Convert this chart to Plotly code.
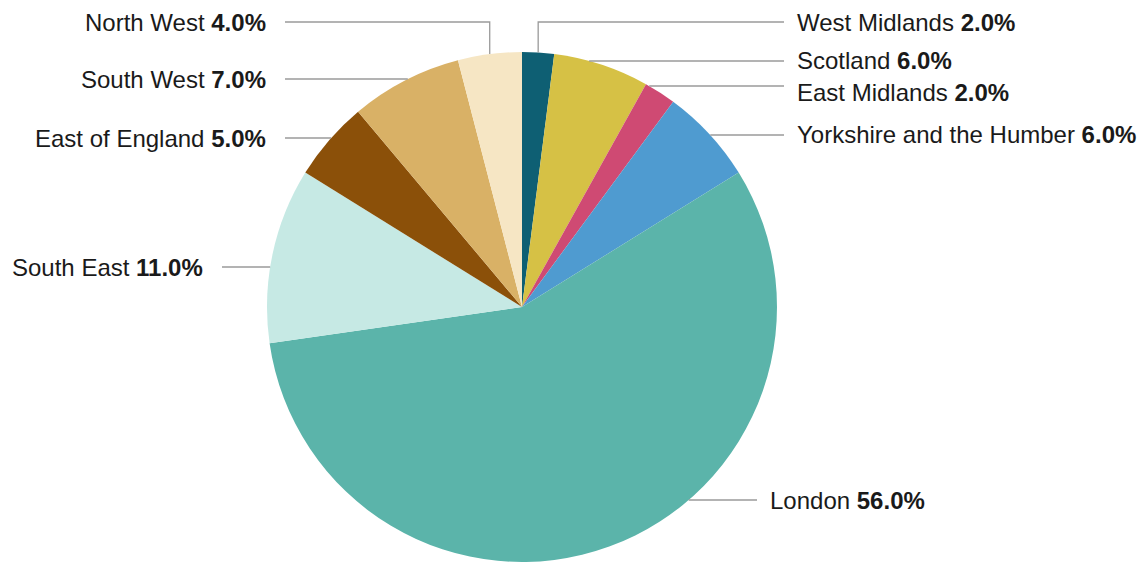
import math
import plotly.graph_objects as go

# Regional share data (clockwise from 12 o'clock)
regions = ["West Midlands", "Scotland", "East Midlands", "Yorkshire and the Humber",
           "London", "South East", "East of England", "South West", "North West"]
shares = [2.0, 6.0, 2.0, 6.0, 56.0, 11.0, 5.0, 7.0, 4.0]

colors = ["#0e5f73", "#d6c145", "#cf4a73", "#4f9bd0", "#5bb4aa",
          "#c6e9e4", "#8b5009", "#d9b166", "#f6e6c4"]

# Figure geometry (pixels)
W, H = 1148, 567
CX, CY, R = 522, 307, 255

# Label layout: side, text anchor x, leader-line y, text y
label_side = ["right", "right", "right", "right", "right", "left", "left", "left", "left"]
label_x = [795, 795, 795, 795, 768, 205, 268, 268, 268]
line_y = [22, 61, 86, 135, 500, 267, 138, 79, 22]
text_y = [22, 60, 92, 134, 500, 267, 138, 79, 22]

fig = go.Figure(go.Pie(
    labels=regions,
    values=shares,
    sort=False,
    direction="clockwise",
    rotation=0,
    marker=dict(colors=colors, line=dict(width=0)),
    textinfo="none",
    hoverinfo="label+value",
    showlegend=False,
    domain=dict(x=[(CX - R) / W, (CX + R) / W],
                y=[(H - CY - R) / H, (H - CY + R) / H]),
))


def px(x):
    return x / W


def py(y):
    return 1 - y / H


def arc_point(theta_deg):
    t = math.radians(theta_deg)
    return CX + R * math.sin(t), CY - R * math.cos(t)


total = sum(shares)
shapes, annotations = [], []
start = 0.0
line_style = dict(color="#9a9a9a", width=1.3)
for name, val, side, lx, ly, ty in zip(regions, shares, label_side, label_x, line_y, text_y):
    a0 = start
    a1 = start + val / total * 360.0
    start = a1
    mid = (a0 + a1) / 2.0

    # Try a straight horizontal leader from the arc at the label height
    c = (CY - ly) / R
    anchor = None
    if -1 <= c <= 1:
        th = math.degrees(math.acos(c))
        if side == "left":
            th = 360.0 - th
        if a0 <= th <= a1:
            anchor = arc_point(th)
    end_x = lx - 11 if side == "right" else lx + 17

    if anchor is not None:
        shapes.append(dict(type="line", xref="paper", yref="paper",
                           x0=px(anchor[0]), y0=py(ly), x1=px(end_x), y1=py(ly),
                           line=line_style))
    else:
        # Elbow leader: up from the slice midpoint, then across
        mx, my = arc_point(mid)
        shapes.append(dict(type="path", xref="paper", yref="paper",
                           path=f"M {px(mx)},{py(my)} L {px(mx)},{py(ly)} L {px(end_x)},{py(ly)}",
                           line=line_style))

    annotations.append(dict(
        x=px(lx), y=py(ty), xref="paper", yref="paper",
        text=f"{name} <b>{val:.1f}%</b>",
        showarrow=False,
        xanchor="left" if side == "right" else "right",
        yanchor="middle",
        font=dict(family="Liberation Sans, Arial, sans-serif", size=24, color="#1a1a1a"),
    ))

fig.update_layout(
    width=W, height=H,
    margin=dict(l=0, r=0, t=0, b=0),
    paper_bgcolor="white",
    plot_bgcolor="white",
    shapes=shapes,
    annotations=annotations,
)

fig.write_html("out.html")
